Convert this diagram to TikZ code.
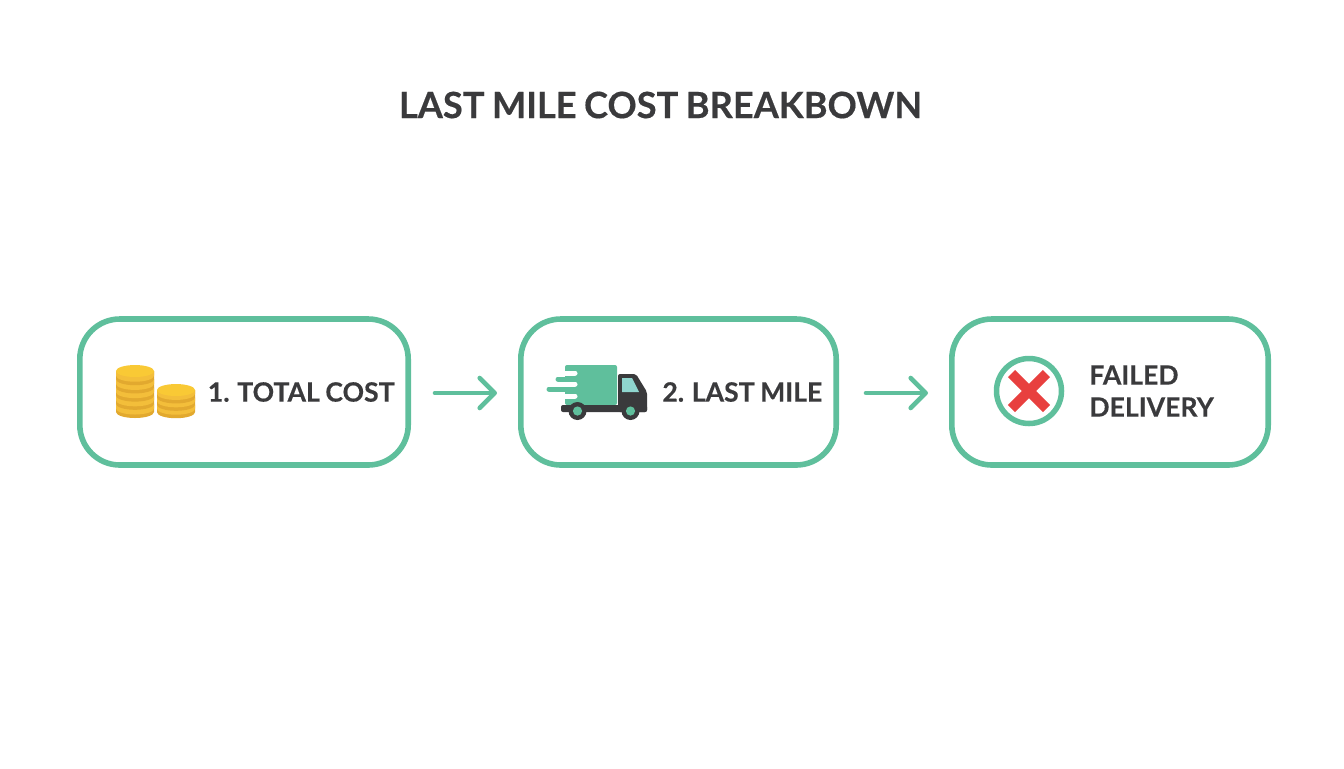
\documentclass[tikz,border=0pt]{standalone}
\usepackage{fontspec}
\setmainfont{Lato}[WordSpace=0.85,BoldFeatures={FakeBold=0.4}]
\usetikzlibrary{arrows.meta}
\definecolor{teal}{HTML}{5FBF9C}
\definecolor{ink}{HTML}{3A3A3C}
\definecolor{glass}{HTML}{8FD6CF}
\definecolor{crossred}{HTML}{E8403F}
\definecolor{cointop}{HTML}{F9C935}
\definecolor{coinside}{HTML}{F3BE3A}
\definecolor{coinband}{HTML}{E2A92F}

\begin{document}
\begin{tikzpicture}[x=0.5pt,y=-0.5pt]
\tikzset{stage/.style = {shape=rectangle,draw=teal,line width=2.8pt,rounded corners=20pt,minimum height=73pt}}
\tikzset{flow/.style = {draw=teal,line width=2.3pt,line cap=round,-{Straight Barb[round,length=7.5pt,width=15pt]}}}
\tikzset{label/.style = {font=\bfseries\fontsize{13.3pt}{16pt}\selectfont,text=ink,inner sep=0pt,anchor=west}}
\useasboundingbox (0,0) rectangle (1344,768);

\node[font=\bfseries\fontsize{18.1pt}{20pt}\selectfont,text=ink,inner sep=0pt] (title) at (660.5,105) {LAST MILE COST BREAKBOWN};

\node[stage,minimum width=164.2pt] (total) at (244,392) {};
\node[stage,minimum width=157.7pt] (lastmile) at (678.5,392) {};
\node[stage,minimum width=158.2pt] (failed) at (1110,392) {};

\draw[flow,shorten <=12pt,shorten >=10.5pt] ([yshift=-0.5pt]total.east) to ([yshift=-0.5pt]lastmile.west);
\draw[flow,shorten <=13.5pt,shorten >=10.5pt] ([yshift=-0.5pt]lastmile.east) to ([yshift=-0.5pt]failed.west);

% coins
\foreach \cx/\ctop/\cnum/\chgt in {135/371/5/8.2,176/390/3/7.4}{
  \foreach \k in {1,...,\cnum}{
    \pgfmathsetmacro{\cy}{\ctop+(\cnum-\k)*\chgt}
    \fill[coinband] (\cx-19,\cy) -- (\cx-19,\cy+\chgt) arc[start angle=180,end angle=360,x radius=9.5pt,y radius=3pt] -- (\cx+19,\cy) -- cycle;
    \fill[coinside] (\cx-19,\cy) -- (\cx-19,\cy+\chgt-3.5) arc[start angle=180,end angle=360,x radius=9.5pt,y radius=3pt] -- (\cx+19,\cy) -- cycle;
  }
  \fill[cointop] (\cx,\ctop) ellipse[x radius=9.5pt,y radius=3pt];
}
\node[label] (totaltext) at (207.5,392) {1. TOTAL COST};

% truck
\fill[teal,rounded corners=1pt] (565,365) rectangle (617,405);
\draw[white,line width=2.5pt,line cap=round] (556,373) -- (575,373);
\draw[white,line width=2.5pt,line cap=round] (556,384) -- (575,384);
\draw[white,line width=2.5pt,line cap=round] (556,396) -- (575,396);
\draw[teal,line width=2.5pt,line cap=round] (558,379) -- (584,379);
\draw[teal,line width=2.5pt,line cap=round] (549,389) -- (584,389);
\fill[ink,rounded corners=1pt] (618,374) -- (636,374) -- (647,392) -- (647,412) -- (618,412) -- cycle;
\fill[ink,rounded corners=1pt] (561,405) rectangle (647,412);
\fill[glass] (622,378) -- (632,378) -- (639,392) -- (622,392) -- cycle;
\foreach \wx in {577.5,630.5}{
  \fill[ink] (\wx,411) circle (4.5pt);
  \fill[teal] (\wx,411) circle (2.3pt);
}
\node[label] (lastmiletext) at (662,392) {2. LAST MILE};

% failed mark
\node[shape=circle,draw=teal,line width=2.75pt,minimum size=32.5pt,inner sep=0pt] (ring) at (1029,391) {};
\draw[crossred,line width=5pt] (1011.5,373.5) -- (1046.5,408.5);
\draw[crossred,line width=5pt] (1046.5,373.5) -- (1011.5,408.5);
\node[label] (failedtext) at (1089,375) {FAILED};
\node[label] (deliverytext) at (1089,407) {DELIVERY};
\end{tikzpicture}
\end{document}
